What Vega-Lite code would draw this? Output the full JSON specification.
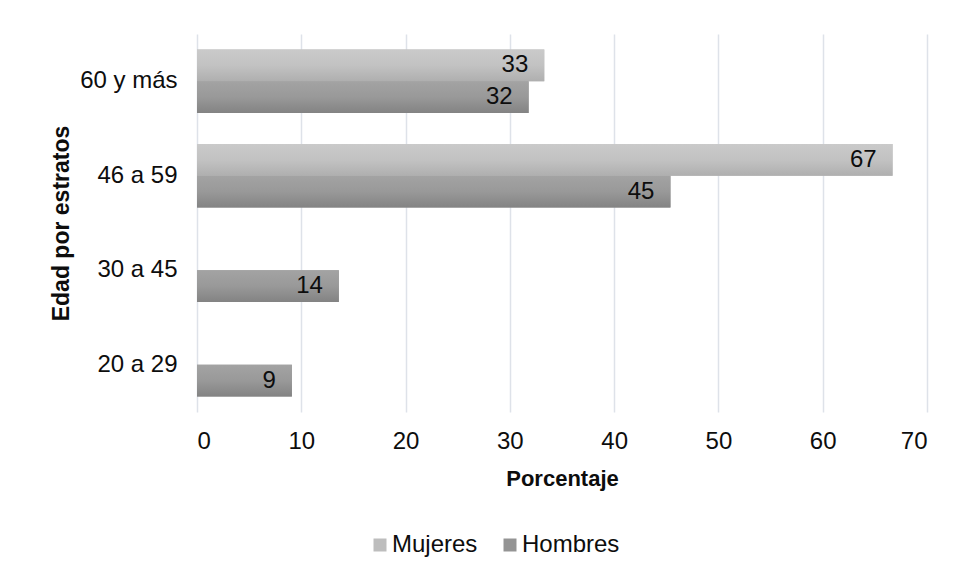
{
  "$schema": "https://vega.github.io/schema/vega-lite/v6.json",
  "width": 730,
  "height": 378,
  "autosize": {"type": "none"},
  "padding": {"left": 197, "top": 34, "right": 29, "bottom": 166},
  "background": "white",
  "config": {
    "font": "Liberation Sans",
    "view": {"stroke": null},
    "text": {"font": "Liberation Sans"}
  },
  "data": {
    "values": [
      {"edad": "60 y más", "sexo": "Mujeres", "pct": 33.3},
      {"edad": "60 y más", "sexo": "Hombres", "pct": 31.8},
      {"edad": "46 a 59", "sexo": "Mujeres", "pct": 66.7},
      {"edad": "46 a 59", "sexo": "Hombres", "pct": 45.4},
      {"edad": "30 a 45", "sexo": "Hombres", "pct": 13.6},
      {"edad": "20 a 29", "sexo": "Hombres", "pct": 9.1}
    ]
  },
  "encoding": {
    "y": {
      "field": "edad",
      "type": "nominal",
      "sort": ["60 y más", "46 a 59", "30 a 45", "20 a 29"],
      "scale": {"paddingInner": 0.33, "paddingOuter": 0.165},
      "axis": {
        "title": "Edad por estratos",
        "titleFontSize": 23,
        "titleFontWeight": "bold",
        "titleColor": "#0d0d0d",
        "titlePadding": 6,
        "labelFontSize": 24,
        "labelColor": "#0d0d0d",
        "labelPadding": 20,
        "domain": false,
        "ticks": false,
        "grid": false
      }
    },
    "yOffset": {
      "field": "sexo",
      "type": "nominal",
      "sort": ["Mujeres", "Hombres"],
      "scale": {"domain": ["Mujeres", "Hombres"], "paddingInner": 0, "paddingOuter": 0}
    },
    "x": {
      "field": "pct",
      "type": "quantitative",
      "scale": {"domain": [0, 70], "nice": false},
      "axis": {
        "title": "Porcentaje",
        "titleFontSize": 22,
        "titleFontWeight": "bold",
        "titleColor": "#0d0d0d",
        "titlePadding": 15,
        "values": [0, 10, 20, 30, 40, 50, 60, 70],
        "labelFontSize": 24,
        "labelColor": "#0d0d0d",
        "labelPadding": 17,
        "domain": false,
        "ticks": false,
        "grid": true,
        "gridColor": "#dee2e9",
        "gridWidth": 1.5
      }
    }
  },
  "layer": [
    {
      "mark": {"type": "bar"},
      "encoding": {
        "fill": {
          "field": "sexo",
          "type": "nominal",
          "sort": ["Mujeres", "Hombres"],
          "scale": {"domain": ["Mujeres", "Hombres"], "range": ["#bdbdbd", "#949494"]},
          "legend": {
            "title": null,
            "orient": "none",
            "direction": "horizontal",
            "legendX": 171,
            "legendY": 499,
            "symbolType": "square",
            "symbolSize": 169,
            "symbolStrokeWidth": 0,
            "labelFontSize": 24,
            "labelColor": "#0d0d0d",
            "labelOffset": 0,
            "columnPadding": 20,
            "symbolOpacity": 1,
            "encode": {
              "symbols": {
                "update": {
                  "fill": [
                    {"test": "datum.label === 'Mujeres'", "value": {"gradient": "linear", "x1": 0, "y1": 0, "x2": 0, "y2": 1,
                      "stops": [{"offset": 0, "color": "#cdcdcd"}, {"offset": 1, "color": "#acacac"}]}},
                    {"value": {"gradient": "linear", "x1": 0, "y1": 0, "x2": 0, "y2": 1,
                      "stops": [{"offset": 0, "color": "#a6a6a6"}, {"offset": 1, "color": "#808080"}]}}
                  ]
                }
              }
            }
          }
        }
      }
    },
    {
      "mark": {"type": "bar"},
      "encoding": {
        "fill": {
          "condition": {
            "test": "datum.sexo === 'Mujeres'",
            "value": {"gradient": "linear", "x1": 0, "y1": 0, "x2": 0, "y2": 1,
              "stops": [{"offset": 0, "color": "#cacaca"}, {"offset": 0.5, "color": "#c2c2c2"}, {"offset": 1, "color": "#afafaf"}]}
          },
          "value": {"gradient": "linear", "x1": 0, "y1": 0, "x2": 0, "y2": 1,
            "stops": [{"offset": 0, "color": "#a3a3a3"}, {"offset": 0.5, "color": "#999999"}, {"offset": 1, "color": "#838383"}]}
        }
      }
    },
    {
      "mark": {"type": "text", "align": "right", "baseline": "middle", "dx": -16, "fontSize": 24, "color": "#0d0d0d"},
      "encoding": {
        "text": {"field": "pct", "type": "quantitative", "format": ".0f"}
      }
    }
  ]
}
